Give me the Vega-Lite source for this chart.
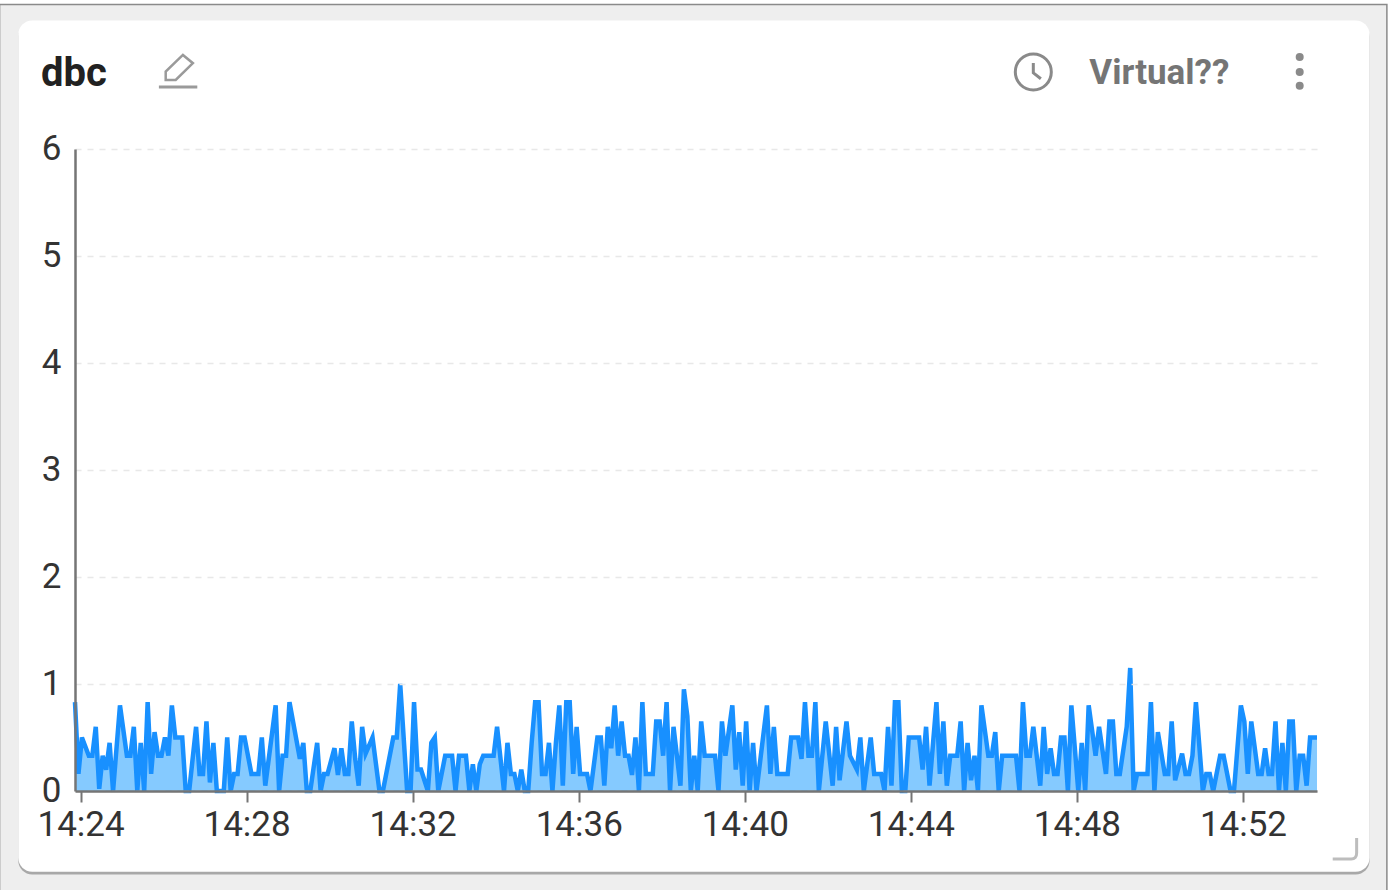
{"$schema":"https://vega.github.io/schema/vega-lite/v6.json","width":1242,"height":642,"autosize":"none","padding":{"left":75,"top":149,"right":75,"bottom":99},"background":"#ffffff","config":{"view":{"stroke":null},"font":"Roboto"},
"title":{"text":"dbc","anchor":"start","frame":"group","dx":-34,"offset":-90,"fontSize":40,"font":"Roboto","fontWeight":"bold","color":"#212121"},
"datasets":{"series":[
{"t":"2024-01-01T14:23:52","v":0.83},{"t":"2024-01-01T14:23:57","v":0.16},
{"t":"2024-01-01T14:24:02","v":0.5},{"t":"2024-01-01T14:24:12","v":0.33},{"t":"2024-01-01T14:24:17","v":0.33},{"t":"2024-01-01T14:24:22","v":0.6},{"t":"2024-01-01T14:24:27","v":0.02},{"t":"2024-01-01T14:24:32","v":0.33},{"t":"2024-01-01T14:24:37","v":0.2},{"t":"2024-01-01T14:24:42","v":0.45},{"t":"2024-01-01T14:24:47","v":0},{"t":"2024-01-01T14:24:57","v":0.8},
{"t":"2024-01-01T14:25:07","v":0.33},{"t":"2024-01-01T14:25:12","v":0.33},{"t":"2024-01-01T14:25:17","v":0.6},{"t":"2024-01-01T14:25:22","v":0},{"t":"2024-01-01T14:25:27","v":0.45},{"t":"2024-01-01T14:25:32","v":0},{"t":"2024-01-01T14:25:37","v":0.83},{"t":"2024-01-01T14:25:42","v":0.16},{"t":"2024-01-01T14:25:47","v":0.55},{"t":"2024-01-01T14:25:52","v":0.33},{"t":"2024-01-01T14:25:57","v":0.33},
{"t":"2024-01-01T14:26:02","v":0.5},{"t":"2024-01-01T14:26:07","v":0.33},{"t":"2024-01-01T14:26:12","v":0.8},{"t":"2024-01-01T14:26:17","v":0.5},{"t":"2024-01-01T14:26:27","v":0.5},{"t":"2024-01-01T14:26:32","v":0},{"t":"2024-01-01T14:26:37","v":0},{"t":"2024-01-01T14:26:47","v":0.6},{"t":"2024-01-01T14:26:52","v":0.16},{"t":"2024-01-01T14:26:57","v":0.16},
{"t":"2024-01-01T14:27:02","v":0.65},{"t":"2024-01-01T14:27:07","v":0.08},{"t":"2024-01-01T14:27:12","v":0.45},{"t":"2024-01-01T14:27:17","v":0},{"t":"2024-01-01T14:27:27","v":0},{"t":"2024-01-01T14:27:32","v":0.5},{"t":"2024-01-01T14:27:37","v":0},{"t":"2024-01-01T14:27:42","v":0.16},{"t":"2024-01-01T14:27:47","v":0.16},{"t":"2024-01-01T14:27:52","v":0.5},{"t":"2024-01-01T14:27:57","v":0.5},
{"t":"2024-01-01T14:28:07","v":0.16},{"t":"2024-01-01T14:28:12","v":0.16},{"t":"2024-01-01T14:28:17","v":0.16},{"t":"2024-01-01T14:28:22","v":0.5},{"t":"2024-01-01T14:28:27","v":0.05},{"t":"2024-01-01T14:28:42","v":0.8},{"t":"2024-01-01T14:28:47","v":0},{"t":"2024-01-01T14:28:52","v":0.33},{"t":"2024-01-01T14:28:57","v":0.33},
{"t":"2024-01-01T14:29:02","v":0.83},{"t":"2024-01-01T14:29:17","v":0.3},{"t":"2024-01-01T14:29:22","v":0.45},{"t":"2024-01-01T14:29:27","v":0},{"t":"2024-01-01T14:29:32","v":0},{"t":"2024-01-01T14:29:42","v":0.45},{"t":"2024-01-01T14:29:47","v":0},{"t":"2024-01-01T14:29:52","v":0.16},{"t":"2024-01-01T14:29:57","v":0.16},
{"t":"2024-01-01T14:30:07","v":0.4},{"t":"2024-01-01T14:30:12","v":0.15},{"t":"2024-01-01T14:30:17","v":0.4},{"t":"2024-01-01T14:30:22","v":0.16},{"t":"2024-01-01T14:30:27","v":0.16},{"t":"2024-01-01T14:30:32","v":0.65},{"t":"2024-01-01T14:30:37","v":0.3},{"t":"2024-01-01T14:30:42","v":0.05},{"t":"2024-01-01T14:30:47","v":0.6},{"t":"2024-01-01T14:30:52","v":0.35},
{"t":"2024-01-01T14:31:02","v":0.5},{"t":"2024-01-01T14:31:12","v":0},{"t":"2024-01-01T14:31:17","v":0},{"t":"2024-01-01T14:31:32","v":0.5},{"t":"2024-01-01T14:31:37","v":0.5},{"t":"2024-01-01T14:31:42","v":1.0},{"t":"2024-01-01T14:31:52","v":0},{"t":"2024-01-01T14:31:57","v":0},
{"t":"2024-01-01T14:32:02","v":0.83},{"t":"2024-01-01T14:32:07","v":0.2},{"t":"2024-01-01T14:32:12","v":0.2},{"t":"2024-01-01T14:32:22","v":0},{"t":"2024-01-01T14:32:27","v":0.45},{"t":"2024-01-01T14:32:32","v":0.5},{"t":"2024-01-01T14:32:37","v":0},{"t":"2024-01-01T14:32:47","v":0.33},{"t":"2024-01-01T14:32:57","v":0.33},
{"t":"2024-01-01T14:33:02","v":0},{"t":"2024-01-01T14:33:07","v":0.33},{"t":"2024-01-01T14:33:17","v":0.33},{"t":"2024-01-01T14:33:22","v":0},{"t":"2024-01-01T14:33:27","v":0.25},{"t":"2024-01-01T14:33:32","v":0},{"t":"2024-01-01T14:33:37","v":0.25},{"t":"2024-01-01T14:33:42","v":0.33},{"t":"2024-01-01T14:33:57","v":0.33},
{"t":"2024-01-01T14:34:02","v":0.6},{"t":"2024-01-01T14:34:12","v":0},{"t":"2024-01-01T14:34:17","v":0.45},{"t":"2024-01-01T14:34:22","v":0.16},{"t":"2024-01-01T14:34:27","v":0.16},{"t":"2024-01-01T14:34:32","v":0},{"t":"2024-01-01T14:34:37","v":0.2},{"t":"2024-01-01T14:34:42","v":0},{"t":"2024-01-01T14:34:47","v":0},{"t":"2024-01-01T14:34:52","v":0.45},{"t":"2024-01-01T14:34:57","v":0.83},
{"t":"2024-01-01T14:35:02","v":0.83},{"t":"2024-01-01T14:35:07","v":0.16},{"t":"2024-01-01T14:35:12","v":0.16},{"t":"2024-01-01T14:35:17","v":0.45},{"t":"2024-01-01T14:35:22","v":0},{"t":"2024-01-01T14:35:27","v":0.45},{"t":"2024-01-01T14:35:32","v":0.8},{"t":"2024-01-01T14:35:37","v":0.05},{"t":"2024-01-01T14:35:42","v":0.83},{"t":"2024-01-01T14:35:47","v":0.83},{"t":"2024-01-01T14:35:52","v":0.16},{"t":"2024-01-01T14:35:57","v":0.6},
{"t":"2024-01-01T14:36:02","v":0.16},{"t":"2024-01-01T14:36:12","v":0.16},{"t":"2024-01-01T14:36:17","v":0},{"t":"2024-01-01T14:36:27","v":0.5},{"t":"2024-01-01T14:36:32","v":0.5},{"t":"2024-01-01T14:36:37","v":0.05},{"t":"2024-01-01T14:36:42","v":0.6},{"t":"2024-01-01T14:36:47","v":0.4},{"t":"2024-01-01T14:36:52","v":0.8},{"t":"2024-01-01T14:36:57","v":0.33},
{"t":"2024-01-01T14:37:02","v":0.65},{"t":"2024-01-01T14:37:07","v":0.33},{"t":"2024-01-01T14:37:12","v":0.33},{"t":"2024-01-01T14:37:17","v":0.15},{"t":"2024-01-01T14:37:22","v":0.5},{"t":"2024-01-01T14:37:27","v":0},{"t":"2024-01-01T14:37:32","v":0.83},{"t":"2024-01-01T14:37:37","v":0.16},{"t":"2024-01-01T14:37:47","v":0.16},{"t":"2024-01-01T14:37:52","v":0.65},{"t":"2024-01-01T14:37:57","v":0.65},
{"t":"2024-01-01T14:38:02","v":0.33},{"t":"2024-01-01T14:38:07","v":0.83},{"t":"2024-01-01T14:38:12","v":0},{"t":"2024-01-01T14:38:17","v":0.6},{"t":"2024-01-01T14:38:27","v":0.05},{"t":"2024-01-01T14:38:32","v":0.95},{"t":"2024-01-01T14:38:37","v":0.7},{"t":"2024-01-01T14:38:42","v":0},{"t":"2024-01-01T14:38:47","v":0.33},{"t":"2024-01-01T14:38:52","v":0},{"t":"2024-01-01T14:38:57","v":0.65},
{"t":"2024-01-01T14:39:02","v":0.33},{"t":"2024-01-01T14:39:17","v":0.33},{"t":"2024-01-01T14:39:22","v":0},{"t":"2024-01-01T14:39:27","v":0.65},{"t":"2024-01-01T14:39:32","v":0.33},{"t":"2024-01-01T14:39:42","v":0.8},{"t":"2024-01-01T14:39:47","v":0.2},{"t":"2024-01-01T14:39:52","v":0.55},{"t":"2024-01-01T14:39:57","v":0.05},
{"t":"2024-01-01T14:40:02","v":0.65},{"t":"2024-01-01T14:40:07","v":0},{"t":"2024-01-01T14:40:12","v":0.45},{"t":"2024-01-01T14:40:17","v":0},{"t":"2024-01-01T14:40:32","v":0.8},{"t":"2024-01-01T14:40:37","v":0.16},{"t":"2024-01-01T14:40:42","v":0.6},{"t":"2024-01-01T14:40:47","v":0.16},
{"t":"2024-01-01T14:41:02","v":0.16},{"t":"2024-01-01T14:41:07","v":0.5},{"t":"2024-01-01T14:41:17","v":0.5},{"t":"2024-01-01T14:41:22","v":0.3},{"t":"2024-01-01T14:41:27","v":0.83},{"t":"2024-01-01T14:41:32","v":0.33},{"t":"2024-01-01T14:41:37","v":0.33},{"t":"2024-01-01T14:41:42","v":0.83},{"t":"2024-01-01T14:41:47","v":0},{"t":"2024-01-01T14:41:57","v":0.65},
{"t":"2024-01-01T14:42:07","v":0.05},{"t":"2024-01-01T14:42:12","v":0.6},{"t":"2024-01-01T14:42:17","v":0.1},{"t":"2024-01-01T14:42:27","v":0.65},{"t":"2024-01-01T14:42:32","v":0.33},{"t":"2024-01-01T14:42:42","v":0.2},{"t":"2024-01-01T14:42:47","v":0.5},{"t":"2024-01-01T14:42:52","v":0},
{"t":"2024-01-01T14:43:02","v":0.5},{"t":"2024-01-01T14:43:07","v":0.16},{"t":"2024-01-01T14:43:17","v":0.16},{"t":"2024-01-01T14:43:22","v":0},{"t":"2024-01-01T14:43:27","v":0.6},{"t":"2024-01-01T14:43:32","v":0.05},{"t":"2024-01-01T14:43:37","v":0.83},{"t":"2024-01-01T14:43:42","v":0.83},{"t":"2024-01-01T14:43:47","v":0},{"t":"2024-01-01T14:43:52","v":0},{"t":"2024-01-01T14:43:57","v":0.5},
{"t":"2024-01-01T14:44:12","v":0.5},{"t":"2024-01-01T14:44:17","v":0.2},{"t":"2024-01-01T14:44:22","v":0.6},{"t":"2024-01-01T14:44:27","v":0.05},{"t":"2024-01-01T14:44:37","v":0.83},{"t":"2024-01-01T14:44:42","v":0.16},{"t":"2024-01-01T14:44:47","v":0.65},{"t":"2024-01-01T14:44:52","v":0.05},{"t":"2024-01-01T14:44:57","v":0.33},
{"t":"2024-01-01T14:45:07","v":0.33},{"t":"2024-01-01T14:45:12","v":0.65},{"t":"2024-01-01T14:45:17","v":0},{"t":"2024-01-01T14:45:22","v":0.45},{"t":"2024-01-01T14:45:27","v":0.1},{"t":"2024-01-01T14:45:32","v":0.33},{"t":"2024-01-01T14:45:37","v":0},{"t":"2024-01-01T14:45:42","v":0.8},{"t":"2024-01-01T14:45:52","v":0.33},{"t":"2024-01-01T14:45:57","v":0.33},
{"t":"2024-01-01T14:46:02","v":0.55},{"t":"2024-01-01T14:46:07","v":0},{"t":"2024-01-01T14:46:12","v":0.33},{"t":"2024-01-01T14:46:32","v":0.33},{"t":"2024-01-01T14:46:37","v":0},{"t":"2024-01-01T14:46:42","v":0.83},{"t":"2024-01-01T14:46:47","v":0.33},{"t":"2024-01-01T14:46:52","v":0.33},{"t":"2024-01-01T14:46:57","v":0.6},
{"t":"2024-01-01T14:47:07","v":0.05},{"t":"2024-01-01T14:47:12","v":0.6},{"t":"2024-01-01T14:47:17","v":0.16},{"t":"2024-01-01T14:47:22","v":0.4},{"t":"2024-01-01T14:47:27","v":0.16},{"t":"2024-01-01T14:47:32","v":0.16},{"t":"2024-01-01T14:47:37","v":0.5},{"t":"2024-01-01T14:47:42","v":0.5},{"t":"2024-01-01T14:47:47","v":0},{"t":"2024-01-01T14:47:52","v":0.8},
{"t":"2024-01-01T14:48:02","v":0},{"t":"2024-01-01T14:48:07","v":0.45},{"t":"2024-01-01T14:48:12","v":0},{"t":"2024-01-01T14:48:17","v":0.8},{"t":"2024-01-01T14:48:27","v":0.33},{"t":"2024-01-01T14:48:32","v":0.6},{"t":"2024-01-01T14:48:42","v":0.16},{"t":"2024-01-01T14:48:47","v":0.65},{"t":"2024-01-01T14:48:52","v":0.65},{"t":"2024-01-01T14:48:57","v":0.16},
{"t":"2024-01-01T14:49:02","v":0.16},{"t":"2024-01-01T14:49:12","v":0.6},{"t":"2024-01-01T14:49:17","v":1.15},{"t":"2024-01-01T14:49:22","v":0},{"t":"2024-01-01T14:49:27","v":0.16},{"t":"2024-01-01T14:49:42","v":0.16},{"t":"2024-01-01T14:49:47","v":0.83},{"t":"2024-01-01T14:49:52","v":0},{"t":"2024-01-01T14:49:57","v":0.55},
{"t":"2024-01-01T14:50:07","v":0.16},{"t":"2024-01-01T14:50:12","v":0.16},{"t":"2024-01-01T14:50:17","v":0.65},{"t":"2024-01-01T14:50:22","v":0.1},{"t":"2024-01-01T14:50:32","v":0.35},{"t":"2024-01-01T14:50:37","v":0.16},{"t":"2024-01-01T14:50:42","v":0.16},{"t":"2024-01-01T14:50:47","v":0.33},{"t":"2024-01-01T14:50:52","v":0.83},
{"t":"2024-01-01T14:51:02","v":0},{"t":"2024-01-01T14:51:07","v":0.16},{"t":"2024-01-01T14:51:12","v":0.16},{"t":"2024-01-01T14:51:17","v":0},{"t":"2024-01-01T14:51:27","v":0.33},{"t":"2024-01-01T14:51:32","v":0.33},{"t":"2024-01-01T14:51:42","v":0},{"t":"2024-01-01T14:51:47","v":0},{"t":"2024-01-01T14:51:57","v":0.8},
{"t":"2024-01-01T14:52:02","v":0.65},{"t":"2024-01-01T14:52:07","v":0.16},{"t":"2024-01-01T14:52:12","v":0.65},{"t":"2024-01-01T14:52:22","v":0.16},{"t":"2024-01-01T14:52:27","v":0.16},{"t":"2024-01-01T14:52:32","v":0.4},{"t":"2024-01-01T14:52:37","v":0.16},{"t":"2024-01-01T14:52:42","v":0.16},{"t":"2024-01-01T14:52:47","v":0.65},{"t":"2024-01-01T14:52:52","v":0},{"t":"2024-01-01T14:52:57","v":0.45},
{"t":"2024-01-01T14:53:02","v":0},{"t":"2024-01-01T14:53:07","v":0.65},{"t":"2024-01-01T14:53:12","v":0.65},{"t":"2024-01-01T14:53:17","v":0},{"t":"2024-01-01T14:53:22","v":0.33},{"t":"2024-01-01T14:53:27","v":0.33},{"t":"2024-01-01T14:53:32","v":0.05},{"t":"2024-01-01T14:53:37","v":0.5},{"t":"2024-01-01T14:53:42","v":0.5},{"t":"2024-01-01T14:53:47","v":0.5}
]},
"data":{"name":"series"},
"encoding":{
"x":{"field":"t","type":"temporal","title":null,"scale":{"domain":[{"year":2024,"month":1,"date":1,"hours":14,"minutes":23,"seconds":52},{"year":2024,"month":1,"date":1,"hours":14,"minutes":53,"seconds":47}],"nice":false},"axis":{"zindex":1,"format":"%H:%M","values":[{"year":2024,"month":1,"date":1,"hours":14,"minutes":24},{"year":2024,"month":1,"date":1,"hours":14,"minutes":28},{"year":2024,"month":1,"date":1,"hours":14,"minutes":32},{"year":2024,"month":1,"date":1,"hours":14,"minutes":36},{"year":2024,"month":1,"date":1,"hours":14,"minutes":40},{"year":2024,"month":1,"date":1,"hours":14,"minutes":44},{"year":2024,"month":1,"date":1,"hours":14,"minutes":48},{"year":2024,"month":1,"date":1,"hours":14,"minutes":52}],"grid":false,"labelFont":"Roboto","labelFontSize":35,"labelColor":"#333333","labelPadding":5,"tickColor":"#757575","tickWidth":2,"tickSize":11,"domainColor":"#757575","domainWidth":2.5}},
"y":{"field":"v","type":"quantitative","title":null,"scale":{"domain":[0,6],"nice":false},"axis":{"zindex":1,"values":[0,1,2,3,4,5,6],"grid":true,"gridColor":"#e8e8e8","gridDash":[6,6],"gridWidth":1.5,"ticks":false,"labelFont":"Roboto","labelFontSize":35,"labelColor":"#333333","labelPadding":14,"labelOffset":-1,"domainColor":"#757575","domainWidth":2.5}}
},
"layer":[
{"data":{"values":[{"t":"2024-01-01T14:22:03","t2":"2024-01-01T14:55:28","v":7.35,"v2":-1.1}],"format":{"parse":{"t":"date","t2":"date"}}},"mark":{"type":"rect","fill":"#eeeeee","stroke":"#8a8a8a","strokeWidth":1.5},"encoding":{"x2":{"field":"t2"},"y2":{"field":"v2"}}},
{"data":{"values":[{"t":"2024-01-01T14:22:30","t2":"2024-01-01T14:55:03","v":7.18,"v2":-0.78}],"format":{"parse":{"t":"date","t2":"date"}}},"mark":{"type":"rect","fill":"#a8a8a8","cornerRadius":14},"encoding":{"x2":{"field":"t2"},"y2":{"field":"v2"}}},
{"data":{"values":[{"t":"2024-01-01T14:22:30","t2":"2024-01-01T14:55:03","v":7.2,"v2":-0.755}],"format":{"parse":{"t":"date","t2":"date"}}},"mark":{"type":"rect","fill":"#ffffff","cornerRadius":14},"encoding":{"x2":{"field":"t2"},"y2":{"field":"v2"}}},
{"mark":{"type":"area","fill":"#85caff","interpolate":"linear"},"encoding":{}},
{"mark":{"type":"line","stroke":"#1890ff","strokeWidth":4.5,"interpolate":"linear","strokeMiterLimit":4},"encoding":{}},
{"data":{"values":[{"t":"2024-01-01T14:48:18","v":6.71,"label":"Virtual??"}],"format":{"parse":{"t":"date"}}},"mark":{"type":"text","align":"left","baseline":"middle","font":"Roboto","fontWeight":"bold","fontSize":35,"color":"#757575"},"encoding":{"text":{"field":"label"}}},
{"data":{"values":[{"t":"2024-01-01T14:46:57","v":6.72}],"format":{"parse":{"t":"date"}}},"mark":{"type":"point","shape":"circle","size":1296,"filled":false,"stroke":"#8a8a8a","strokeWidth":3,"opacity":1},"encoding":{}},
{"data":{"values":[{"t":"2024-01-01T14:46:57","v":6.72}],"format":{"parse":{"t":"date"}}},"mark":{"type":"point","shape":"M0 -0.5 L0 0.05 L0.42 0.38","size":1296,"filled":false,"stroke":"#8a8a8a","strokeWidth":3,"opacity":1},"encoding":{}},
{"data":{"values":[{"t":"2024-01-01T14:26:21","v":6.72}],"format":{"parse":{"t":"date"}}},"mark":{"type":"point","shape":"M-0.62 0.4 L-0.62 -0.02 L0.24 -0.85 L0.74 -0.44 L-0.12 0.4 Z","size":1600,"filled":false,"stroke":"#9a9a9a","strokeWidth":2.5,"opacity":1},"encoding":{}},
{"data":{"values":[{"t":"2024-01-01T14:26:21","v":6.72}],"format":{"parse":{"t":"date"}}},"mark":{"type":"point","shape":"M-0.96 0.75 L0.96 0.75","size":1600,"filled":false,"stroke":"#9a9a9a","strokeWidth":3,"opacity":1},"encoding":{}},
{"data":{"values":[{"t":"2024-01-01T14:53:22","v":6.86},{"t":"2024-01-01T14:53:22","v":6.72},{"t":"2024-01-01T14:53:22","v":6.59}],"format":{"parse":{"t":"date"}}},"mark":{"type":"point","shape":"circle","size":64,"filled":true,"fill":"#8a8a8a","opacity":1},"encoding":{}},
{"data":{"values":[{"t":"2024-01-01T14:54:27","v":-0.542}],"format":{"parse":{"t":"date"}}},"mark":{"type":"point","shape":"M-0.92 0.77 L0.5 0.77 Q0.92 0.77 0.92 0.3 L0.92 -0.85","size":676,"filled":false,"stroke":"#bdbdbd","strokeWidth":3,"opacity":1},"encoding":{}}
]}
